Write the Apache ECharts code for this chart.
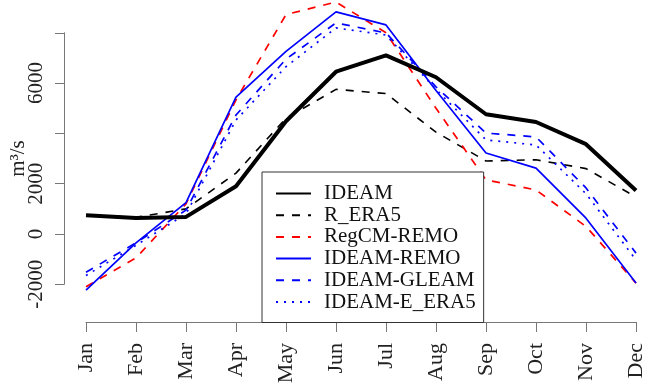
<!DOCTYPE html>
<html>
<head>
<meta charset="utf-8">
<script src="https://cdn.jsdelivr.net/npm/echarts@6/dist/echarts.min.js"></script>
<style>
  html, body { margin: 0; padding: 0; background: #fff; }
  #chart { width: 645px; height: 383px; }
</style>
</head>
<body>
<div id="chart"></div>
<script>
// monthly discharge (m3/s)
const months = ['Jan', 'Feb', 'Mar', 'Apr', 'May', 'Jun', 'Jul', 'Aug', 'Sep', 'Oct', 'Nov', 'Dec'];
const ideam = [750, 640, 680, 1900, 4480, 6450, 7100, 6230, 4760, 4450, 3570, 1730];
const rEra5 = [760, 660, 1000, 2420, 4600, 5750, 5580, 4050, 2900, 2950, 2600, 1470];
const regcmRemo = [-2100, -950, 1200, 5330, 8720, 9220, 8000, 5000, 2150, 1750, 300, -1950];
const ideamRemo = [-2230, -350, 1250, 5440, 7260, 8830, 8310, 5700, 3220, 2620, 630, -1950];
const ideamGleam = [-1520, -350, 950, 4730, 6950, 8390, 7990, 5850, 4010, 3860, 1830, -760];
const ideamEEra5 = [-1650, -450, 800, 4530, 6650, 8190, 7910, 5750, 3740, 3540, 1600, -1030];
const yTicks = { min: -2000, max: 8000, step: 2000 };

const font = 'Liberation Serif';
const chart = echarts.init(document.getElementById('chart'));

function line(name, data, color, width, type) {
  return {
    name: name,
    type: 'line',
    data: data,
    xAxisIndex: 0,
    yAxisIndex: 0,
    symbol: 'none',
    animation: false,
    lineStyle: { color: color, width: width, type: type, cap: 'butt' },
    itemStyle: { color: color },
  };
}

chart.setOption({
  animation: false,
  grid: [
    // data area
    { left: 86, right: 9, top: 0, bottom: 88.6, outerBoundsMode: 'none', containLabel: false },
    // axis frame (R style, detached axes)
    { left: 86, right: 9, top: 32.8, bottom: 98.7, outerBoundsMode: 'none', containLabel: false },
  ],
  xAxis: [
    { type: 'category', gridIndex: 0, data: months, boundaryGap: false, show: false },
    {
      type: 'category', gridIndex: 1, data: months, boundaryGap: false,
      position: 'bottom', offset: 37.7,
      axisLine: { onZero: false, lineStyle: { color: '#777', width: 1 } },
      axisTick: { show: true, length: 10, alignWithLabel: true, lineStyle: { color: '#777' } },
      axisLabel: { rotate: 90, margin: 21, color: '#222', fontFamily: font, fontSize: 22, interval: 0 },
      splitLine: { show: false },
    },
  ],
  yAxis: [
    { type: 'value', gridIndex: 0, min: -2400, max: 9300, show: false },
    {
      type: 'value', gridIndex: 1, min: yTicks.min, max: yTicks.max, interval: yTicks.step,
      position: 'left', offset: 22,
      name: 'm³/s', nameLocation: 'middle', nameRotate: 90, nameGap: 35, nameMoveOverlap: false,
      nameTextStyle: { color: '#222', fontFamily: font, fontSize: 21 },
      axisLine: { show: true, onZero: false, lineStyle: { color: '#777', width: 1 } },
      axisTick: { show: true, length: 9, lineStyle: { color: '#777' } },
      axisLabel: {
        rotate: 90, margin: 17, color: '#222', fontFamily: font, fontSize: 21,
        formatter: v => (v === 4000 || v === 8000 ? '' : String(v)),
      },
      splitLine: { show: false },
    },
  ],
  legend: {
    orient: 'vertical',
    left: 262, top: 172, width: 226, height: 146,
    padding: [11, 8, 10, 13],
    itemGap: 0.7,
    itemWidth: 35, itemHeight: 14,
    itemStyle: { opacity: 0 },
    backgroundColor: '#fff',
    borderColor: '#333', borderWidth: 1, borderRadius: 0,
    textStyle: { fontFamily: font, fontSize: 21, color: '#111', lineHeight: 20, padding: [0, 0, 0, 8] },
    data: ['IDEAM', 'R_ERA5', 'RegCM-REMO', 'IDEAM-REMO', 'IDEAM-GLEAM', 'IDEAM-E_ERA5'],
  },
  series: [
    line('R_ERA5', rEra5, '#000', 1.6, [8, 8]),
    line('RegCM-REMO', regcmRemo, '#ff0000', 1.7, [8, 8]),
    line('IDEAM-GLEAM', ideamGleam, '#0000ff', 1.7, [8, 8]),
    line('IDEAM-E_ERA5', ideamEEra5, '#0000ff', 1.7, [2, 6]),
    line('IDEAM-REMO', ideamRemo, '#0000ff', 1.7, 'solid'),
    line('IDEAM', ideam, '#000', 4, 'solid'),
  ],
});
</script>
</body>
</html>
